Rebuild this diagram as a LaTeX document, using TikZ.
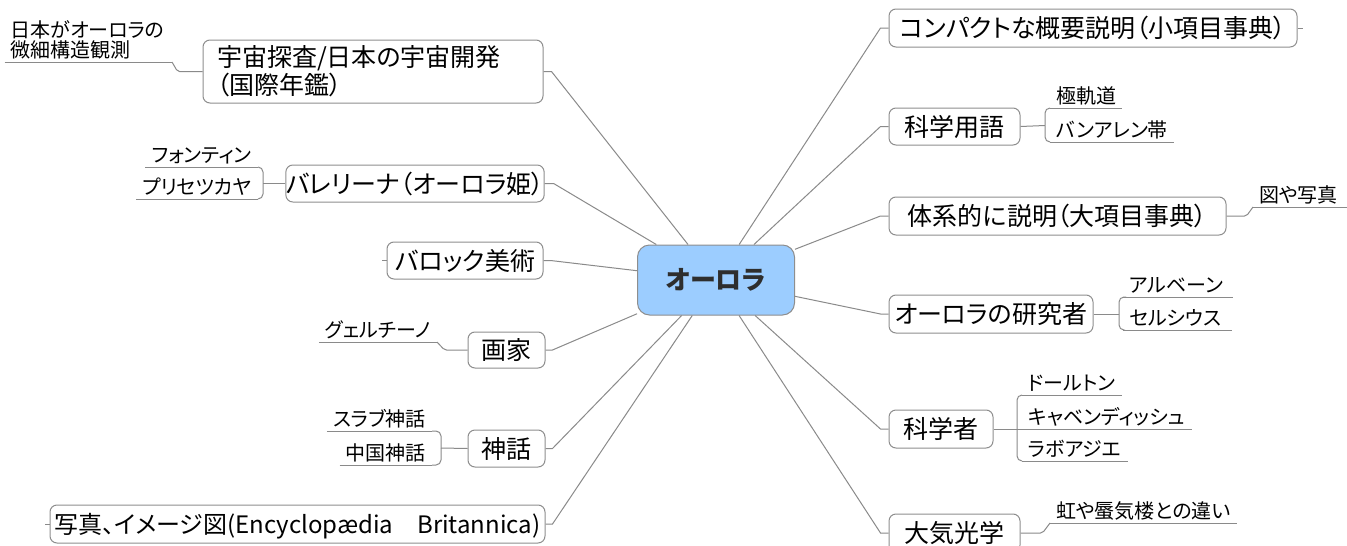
\documentclass[tikz,border=0pt]{standalone}
\usepackage{fontspec}
\setmainfont{Noto Sans CJK JP}[RawFeature=+palt]
\definecolor{boxgray}{HTML}{8E8E8E}
\definecolor{linegray}{HTML}{8A8A8A}
\definecolor{rootfill}{HTML}{9CCDFF}
\definecolor{roottext}{HTML}{2E2E2E}
\tikzset{
  mainbox/.style={draw=boxgray, line width=1pt, rounded corners=7pt, fill=white,
    inner sep=0pt, text=black, font=\fontsize{25}{28}\selectfont,
    text height=22pt, text depth=3pt},
  rootbox/.style={draw=boxgray, line width=1pt, rounded corners=12pt, fill=rootfill,
    inner sep=0pt, text=roottext, font=\fontsize{26}{28}\selectfont\bfseries},
  subnode/.style={inner xsep=6pt, inner ysep=1pt, text=black,
    font=\fontsize{20}{20}\selectfont, text height=17pt, text depth=3.5pt},
  edge/.style={draw=linegray, line width=1pt},
  uline/.style={draw=linegray, line width=1pt},
  bracket/.style={draw=linegray, line width=1pt, rounded corners=5pt},
}
\begin{document}
\begin{tikzpicture}[x=1pt, y=-1pt]
\path[fill=white, use as bounding box] (0,0) rectangle (1347,546);

% root
\node[rootbox, minimum width=157pt, minimum height=70pt] (root) at (716,280) {オーロラ};

% left main nodes
\node[mainbox, text width=312pt, inner xsep=14pt, minimum height=63pt, align=left,
      text height=, text depth=] (uchu) at (373,71.5) {宇宙探査/日本の宇宙開発\\（国際年鑑）};
\node[mainbox, minimum width=256pt, minimum height=37pt] (ballet) at (415,183.5) {バレリーナ（オーロラ姫）};
\node[mainbox, minimum width=156pt, minimum height=37pt] (baroque) at (465,260.5) {バロック美術};
\node[mainbox, minimum width=77pt, minimum height=36pt] (painter) at (506.5,350) {画家};
\node[mainbox, minimum width=77pt, minimum height=37pt] (myth) at (506.5,448.5) {神話};
\node[mainbox, minimum width=495pt, minimum height=38pt, font=\fontsize{24}{28}\selectfont] (photo) at (297.5,524) {写真、イメージ図(Encyclopædia　Britannica)};

% right main nodes
\node[mainbox, minimum width=408pt, minimum height=38pt] (compact) at (1093,28) {コンパクトな概要説明（小項目事典）};
\node[mainbox, minimum width=131pt, minimum height=37pt] (sciterm) at (954.5,126.5) {科学用語};
\node[mainbox, minimum width=337pt, minimum height=38pt] (system) at (1057.5,216) {体系的に説明（大項目事典）};
\node[mainbox, minimum width=204pt, minimum height=38pt] (research) at (991,314) {オーロラの研究者};
\node[mainbox, minimum width=104pt, minimum height=38pt] (scient) at (941,429) {科学者};
\node[mainbox, minimum width=131pt, minimum height=38pt] (optics) at (954.5,533) {大気光学};

% root connectors
\draw[edge] (root) -- ([xshift=8pt]uchu.east) -- (uchu.east);
\draw[edge] (root) -- ([xshift=9pt]ballet.east) -- (ballet.east);
\draw[edge] (root) -- ([xshift=7pt]baroque.east) -- (baroque.east);
\draw[edge] (root) -- ([xshift=7pt]painter.east) -- (painter.east);
\draw[edge] (root) -- ([xshift=7pt]myth.east) -- (myth.east);
\draw[edge] (root) -- ([xshift=7pt]photo.east) -- (photo.east);
\draw[edge] (root) -- ([xshift=-8pt]compact.west) -- (compact.west);
\draw[edge] (root) -- ([xshift=-8pt]sciterm.west) -- (sciterm.west);
\draw[edge] (root) -- ([xshift=-8pt]system.west) -- (system.west);
\draw[edge] (root) -- ([xshift=-8pt]research.west) -- (research.west);
\draw[edge] (root) -- ([xshift=-8pt]scient.west) -- (scient.west);
\draw[edge] (root) -- ([xshift=-8pt]optics.west) -- (optics.west);

% leaf stubs
\draw[edge] (baroque.west) -- ++(-5,0);
\draw[edge] (photo.west) -- ++(-5,0);
\draw[edge] (compact.east) -- ++(5,0);

% ---- left sub topics ----
\node[subnode, anchor=south east, text width=155pt, align=left, text height=, text depth=, inner ysep=3pt]
  (nihon) at (172,62) {日本がオーロラの\\微細構造観測};
\draw[uline] (nihon.south west) -- (nihon.south east);
\draw[edge, rounded corners=2pt] (uchu.west) -- ([xshift=-25pt]uchu.west) -- (nihon.south east);

\node[subnode, anchor=south east] (fon) at (258,167) {フォンティン};
\node[subnode, anchor=south east] (pli) at (258,199) {プリセツカヤ};
\draw[uline] (fon.south west) -- (fon.south east);
\draw[uline] (pli.south west) -- (pli.south east);
\coordinate (bb) at (263,183.5);
\draw[edge] (ballet.west) -- (bb);
\draw[bracket] (bb) -- (bb |- fon.south east) -- (fon.south east);
\draw[bracket] (bb) -- (bb |- pli.south east) -- (pli.south east);

\node[subnode, anchor=south east] (guer) at (437,342) {グェルチーノ};
\draw[uline] (guer.south west) -- (guer.south east);
\draw[edge, rounded corners=2pt] (painter.west) -- ([xshift=-23pt]painter.west) -- (guer.south east);

\node[subnode, anchor=south east] (slav) at (432,431) {スラブ神話};
\node[subnode, anchor=south east] (china) at (432,465) {中国神話};
\draw[uline] (slav.south west) -- (slav.south east);
\draw[uline] (china.south west) -- (china.south east);
\coordinate (bm) at (441,448);
\draw[edge] (myth.west) -- (bm);
\draw[bracket] (bm) -- (bm |- slav.south east) -- (slav.south east);
\draw[bracket] (bm) -- (bm |- china.south east) -- (china.south east);

% ---- right sub topics ----
\node[subnode, anchor=south west] (kyoku) at (1050,108) {極軌道};
\node[subnode, anchor=south west] (van) at (1050,142) {バンアレン帯};
\draw[uline] (kyoku.south west) -- (kyoku.south east);
\draw[uline] (van.south west) -- (van.south east);
\coordinate (bs) at (1045,125.5);
\draw[edge] (sciterm.east) -- (bs);
\draw[bracket] (bs) -- (bs |- kyoku.south west) -- (kyoku.south west);
\draw[bracket] (bs) -- (bs |- van.south west) -- (van.south west);

\node[subnode, anchor=south west] (zu) at (1253,207) {図や写真};
\draw[uline] (zu.south west) -- (1347,207);
\draw[edge, rounded corners=2pt] (system.east) -- ([xshift=20pt]system.east) -- (zu.south west);

\node[subnode, anchor=south west] (alf) at (1123,297) {アルベーン};
\node[subnode, anchor=south west] (cel) at (1123,330) {セルシウス};
\draw[uline] (alf.south west) -- ([xshift=4pt]alf.south east);
\draw[uline] (cel.south west) -- ([xshift=4pt]cel.south east);
\coordinate (br) at (1119,314);
\draw[edge] (research.east) -- (br);
\draw[bracket] (br) -- (br |- alf.south west) -- (alf.south west);
\draw[bracket] (br) -- (br |- cel.south west) -- (cel.south west);

\node[subnode, anchor=south west] (dal) at (1022,395) {ドールトン};
\node[subnode, anchor=south west] (cav) at (1022,429) {キャベンディッシュ};
\node[subnode, anchor=south west] (lav) at (1022,461) {ラボアジエ};
\draw[uline] (dal.south west) -- (dal.south east);
\draw[uline] (cav.south west) -- (cav.south east);
\draw[uline] (lav.south west) -- (lav.south east);
\coordinate (bc) at (1017,429);
\draw[edge] (scient.east) -- (bc);
\draw[bracket] (bc) -- (bc |- dal.south west) -- (dal.south west);
\draw[bracket] (bc) -- (bc |- lav.south west) -- (lav.south west);
\draw[edge] (bc) -- (cav.south west);

\node[subnode, anchor=south west] (niji) at (1050,523) {虹や蜃気楼との違い};
\draw[uline] (niji.south west) -- (niji.south east);
\draw[edge, rounded corners=2pt] (optics.east) -- ([xshift=22pt]optics.east) -- (niji.south west);
\end{tikzpicture}
\end{document}
